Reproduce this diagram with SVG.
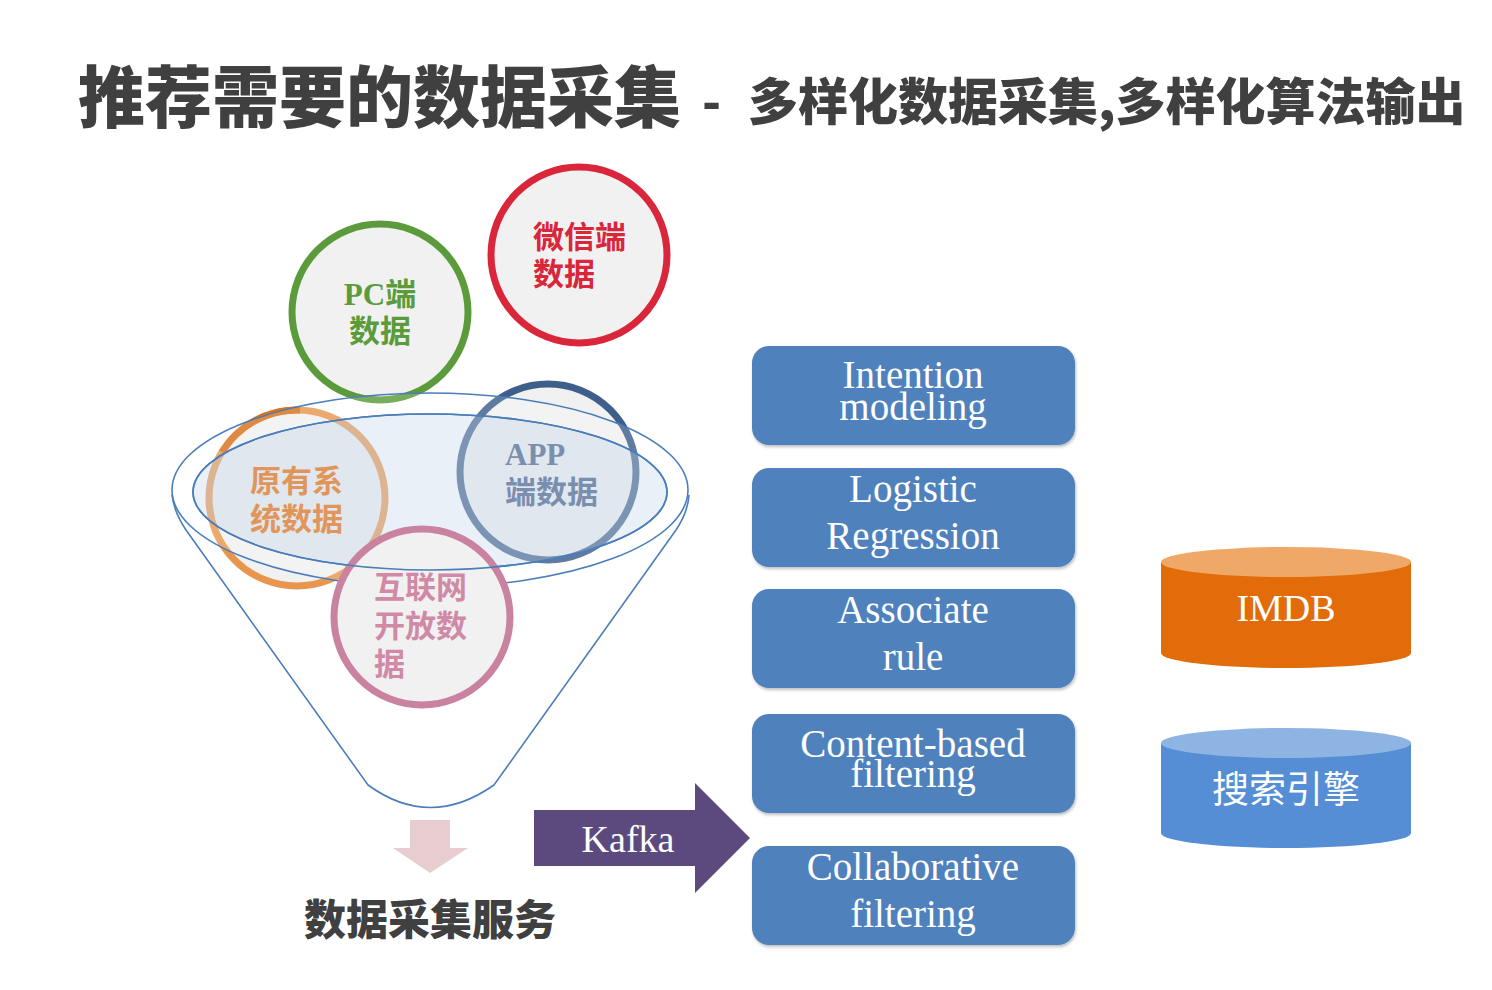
<svg xmlns="http://www.w3.org/2000/svg" width="1492" height="990" viewBox="0 0 1492 990">
<defs>
<style>
.title{font-family:"Noto Sans CJK SC","Liberation Sans",sans-serif;font-weight:900;fill:#404040}
.ctext{font-family:"Noto Sans CJK SC",sans-serif;font-weight:700;font-size:31px}
.serifb{font-family:"Liberation Serif","Noto Sans CJK SC",serif;font-weight:700}
.box{fill:#4f81bd;filter:url(#sh)}
.btext{font-family:"Liberation Serif",serif;font-size:39px;fill:#ffffff;text-anchor:middle}
.circ{fill:#f1f1f1;stroke-width:7}
.funnel{fill:none;stroke:#4a7ebb;stroke-width:1.6}
</style>
<filter id="sh" x="-5%" y="-5%" width="110%" height="115%">
<feDropShadow dx="1" dy="2" stdDeviation="1.5" flood-color="#000" flood-opacity="0.25"/>
</filter>
</defs>
<rect width="1492" height="990" fill="#ffffff"/>

<g id="title">
<text class="title" x="78" y="122" font-size="67">推荐需要的数据采集</text>
<text class="title" x="702" y="120" font-size="50">-</text>
<text class="title" x="748" y="120" font-size="50">多样化数据采集,多样化算法输出</text>
</g>

<g id="node-wechat">
<circle class="circ" cx="579" cy="255" r="88" stroke="#d9263a"/>
<text class="ctext" fill="#d9263a" x="533" y="248">微信端</text>
<text class="ctext" fill="#d9263a" x="533" y="285">数据</text>
</g>
<g id="node-pc">
<circle class="circ" cx="380" cy="312" r="88" stroke="#5b9b3b"/>
<text x="380" y="305" text-anchor="middle" fill="#5b9b3b" font-size="31"><tspan class="serifb">PC</tspan><tspan class="ctext">端</tspan></text>
<text class="ctext" fill="#5b9b3b" x="380" y="342" text-anchor="middle">数据</text>
</g>
<g id="node-legacy">
<circle class="circ" cx="297" cy="498" r="88" stroke="#e8964e"/>
<path d="M222,452 A88,88 0 0 1 300,410" fill="none" stroke="#d9701a" stroke-width="7"/>
</g>
<g id="node-app">
<circle class="circ" cx="548" cy="472" r="88" stroke="#3d5f8a"/>
</g>

<g id="funnel">
<ellipse cx="430" cy="490" rx="258" ry="97" fill="#ffffff" fill-opacity="0.18" stroke="#4a7ebb" stroke-width="1.6"/>
<ellipse cx="430" cy="492" rx="237" ry="78" fill="#b8cce4" fill-opacity="0.3" stroke="#4a7ebb" stroke-width="1.6"/>
<path class="funnel" d="M172,495 Q174,512 186,530 L368,785 Q430,830 494,785 L676,530 Q688,512 689,495"/>
</g>

<g id="node-legacy-label">
<text class="ctext" fill="#e0955a" x="250" y="492">原有系</text>
<text class="ctext" fill="#e0955a" x="250" y="530">统数据</text>
</g>
<g id="node-app-label">
<text x="505" y="465" fill="#7a8fae" font-size="31" class="serifb">APP</text>
<text class="ctext" fill="#7a8fae" x="505" y="503">端数据</text>
</g>

<g id="node-internet">
<circle class="circ" cx="422" cy="617" r="88" stroke="#c9829f"/>
<text class="ctext" fill="#d08aa5" x="374" y="598">互联网</text>
<text class="ctext" fill="#d08aa5" x="374" y="637">开放数</text>
<text class="ctext" fill="#d08aa5" x="374" y="675">据</text>
</g>
<g id="funnel-rim">
<ellipse cx="430" cy="492" rx="237" ry="78" fill="none" stroke="#4a7ebb" stroke-width="1.6"/>
</g>

<g id="connectors">
<path d="M410,820 H450 V848 H468 L430,873 L393,848 H410 Z" fill="#e8cdd0"/>
<path d="M534,810 H695 V783 L750,838 L695,893 V866 H534 Z" fill="#5c4a7e"/>
<text x="628" y="852" text-anchor="middle" font-family="Liberation Serif,serif" font-size="38" fill="#ffffff">Kafka</text>
</g>

<g id="node-service">
<text class="title" x="430" y="935" font-size="42" text-anchor="middle">数据采集服务</text>
</g>

<g id="node-intention">
<rect class="box" x="752" y="346" width="323" height="99" rx="17"/>
<text class="btext" x="913" y="388">Intention</text>
<text class="btext" x="913" y="420">modeling</text>
</g>
<g id="node-logistic">
<rect class="box" x="752" y="468" width="323" height="99" rx="17"/>
<text class="btext" x="913" y="502">Logistic</text>
<text class="btext" x="913" y="549">Regression</text>
</g>
<g id="node-associate">
<rect class="box" x="752" y="589" width="323" height="99" rx="17"/>
<text class="btext" x="913" y="623">Associate</text>
<text class="btext" x="913" y="670">rule</text>
</g>
<g id="node-content">
<rect class="box" x="752" y="714" width="323" height="99" rx="17"/>
<text class="btext" x="913" y="757">Content-based</text>
<text class="btext" x="913" y="787">filtering</text>
</g>
<g id="node-collab">
<rect class="box" x="752" y="846" width="323" height="99" rx="17"/>
<text class="btext" x="913" y="880">Collaborative</text>
<text class="btext" x="913" y="927">filtering</text>
</g>

<g id="node-imdb">
<path d="M1161,562 V653 A125,15 0 0 0 1411,653 V562 Z" fill="#e36c0a"/>
<ellipse cx="1286" cy="562" rx="125" ry="15" fill="#f0a868"/>
<text x="1286" y="621" text-anchor="middle" font-family="Liberation Serif,serif" font-size="38" fill="#ffffff">IMDB</text>
</g>
<g id="node-search">
<path d="M1161,743 V833 A125,15 0 0 0 1411,833 V743 Z" fill="#558ed5"/>
<ellipse cx="1286" cy="743" rx="125" ry="15" fill="#8eb4e3"/>
<text x="1286" y="803" text-anchor="middle" font-family="Noto Sans CJK SC,sans-serif" font-size="37" fill="#ffffff">搜索引擎</text>
</g>
</svg>
